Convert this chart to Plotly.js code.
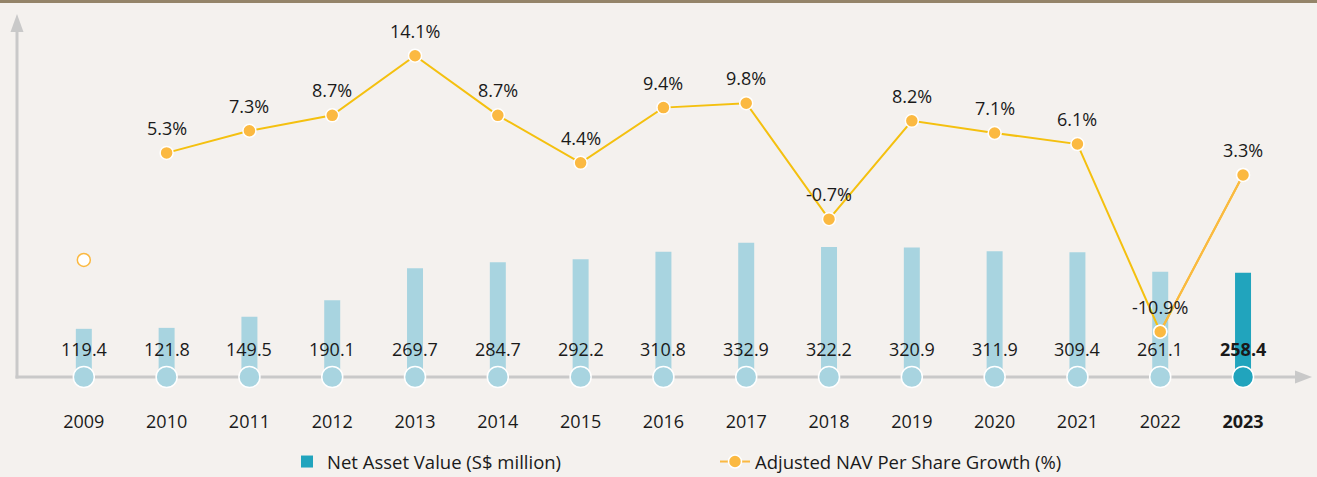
<!DOCTYPE html>
<html>
<head>
<meta charset="utf-8">
<script src="https://cdn.plot.ly/plotly-3.0.1.min.js"></script>
<style>
  html, body { margin: 0; padding: 0; background: #f4f1ee; }
  #chart { width: 1317px; height: 477px; }
</style>
</head>
<body>
<div id="chart"></div>
<script>
// ---- data ----
const years = ["2009","2010","2011","2012","2013","2014","2015","2016","2017","2018","2019","2020","2021","2022","2023"];
const navValues = [119.4, 121.8, 149.5, 190.1, 269.7, 284.7, 292.2, 310.8, 332.9, 322.2, 320.9, 311.9, 309.4, 261.1, 258.4];
const growthYears = ["2010","2011","2012","2013","2014","2015","2016","2017","2018","2019","2020","2021","2022","2023"];
const growthValues = [5.3, 7.3, 8.7, 14.1, 8.7, 4.4, 9.4, 9.8, -0.7, 8.2, 7.1, 6.1, -10.9, 3.3];
const openMarkerYear = ["2009"];
const openMarkerValue = [-4.4];
const navName = "Net Asset Value (S$ million)";
const growthName = "Adjusted NAV Per Share Growth (%)";

// ---- geometry helpers ----
const W = 1317, H = 477;
const M = {l: 17, r: 5, t: 14, b: 100, autoexpand: false};
const PW = W - M.l - M.r, PH = H - M.t - M.b;
const px = x => (x - M.l) / PW;
const py = y => (H - M.b - y) / PH;

const LIGHT = "#a8d4e0", DARK = "#21a4bd";
const GOLD = "#f4c00f", ORANGE = "#fbb941";
const AXIS = "#c9c9c9";
const FONT = "Open Sans, Noto Sans, sans-serif";
const last = years.length - 1;
const catIndex = yr => years.indexOf(yr);

const traces = [
  { type: "bar", x: years.slice(0, last), y: navValues.slice(0, last),
    marker: {color: LIGHT}, showlegend: false, yaxis: "y" },
  { type: "bar", x: years.slice(last), y: navValues.slice(last),
    marker: {color: DARK}, name: navName, showlegend: true, yaxis: "y" },
  { type: "scatter", mode: "markers", x: years, y: years.map(() => 0),
    marker: {size: 21, color: years.map((_, i) => i === last ? DARK : LIGHT),
             line: {color: "#ffffff", width: 1.5}},
    cliponaxis: false, showlegend: false, yaxis: "y" },
  { type: "scatter", mode: "lines", x: growthYears, y: growthValues,
    line: {color: GOLD, width: 2}, showlegend: false, yaxis: "y2", cliponaxis: false },
  { type: "scatter", mode: "lines+markers", x: growthYears.slice(-2), y: growthValues.slice(-2),
    line: {color: ORANGE, width: 2},
    marker: {size: 13, color: ORANGE, line: {color: "#ffffff", width: 1.5}},
    name: growthName, showlegend: true, yaxis: "y2", cliponaxis: false },
  { type: "scatter", mode: "markers", x: growthYears, y: growthValues,
    marker: {size: 13, color: ORANGE, line: {color: "#ffffff", width: 1.5}},
    showlegend: false, yaxis: "y2", cliponaxis: false },
  { type: "scatter", mode: "markers", x: openMarkerYear, y: openMarkerValue,
    marker: {size: 13, color: "#ffffff", line: {color: ORANGE, width: 1.5}},
    showlegend: false, yaxis: "y2", cliponaxis: false }
];

const annotations = [];
years.forEach((yr, i) => {
  annotations.push({ x: catIndex(yr), y: 0, xref: "x", yref: "y", yshift: 28, showarrow: false,
    text: i === last ? "<b>" + navValues[i].toFixed(1) + "</b>" : navValues[i].toFixed(1),
    font: {family: FONT, size: 18, color: "#1a1a1a"} });
});
growthYears.forEach((yr, i) => {
  annotations.push({ x: catIndex(yr), y: growthValues[i], xref: "x", yref: "y2", yshift: 25, showarrow: false,
    text: growthValues[i].toFixed(1) + "%",
    font: {family: FONT, size: 18, color: "#1a1a1a"} });
});

const shapes = [
  { type: "rect", xref: "paper", yref: "paper", x0: px(0), x1: px(W), y0: py(3), y1: py(0),
    fillcolor: "#948469", line: {width: 0}, layer: "below" },
  { type: "line", xref: "paper", yref: "paper", x0: px(17), x1: px(17), y0: py(378.5), y1: py(28),
    line: {color: AXIS, width: 3}, layer: "below" },
  { type: "path", xref: "paper", yref: "paper",
    path: `M${px(17)},${py(14)} L${px(10.5)},${py(32)} L${px(23.5)},${py(32)} Z`,
    fillcolor: AXIS, line: {width: 0}, layer: "below" },
  { type: "line", xref: "paper", yref: "paper", x0: px(15.5), x1: px(1298), y0: py(377), y1: py(377),
    line: {color: AXIS, width: 3}, layer: "below" },
  { type: "path", xref: "paper", yref: "paper",
    path: `M${px(1312)},${py(377)} L${px(1295)},${py(370.5)} L${px(1295)},${py(383.5)} Z`,
    fillcolor: AXIS, line: {width: 0}, layer: "below" }
];

const layout = {
  width: W, height: H,
  margin: M,
  paper_bgcolor: "#f4f1ee", plot_bgcolor: "rgba(0,0,0,0)",
  font: {family: FONT, size: 18, color: "#1a1a1a"},
  barmode: "overlay", bargap: 0.807,
  hovermode: false,
  showlegend: true,
  legend: { orientation: "h", x: px(287), xanchor: "left", y: py(462), yanchor: "middle",
            font: {family: FONT, size: 18.5, color: "#1a1a1a"},
            entrywidth: 383, entrywidthmode: "pixels", bgcolor: "rgba(0,0,0,0)", traceorder: "normal" },
  xaxis: { type: "category", categoryorder: "array", categoryarray: years,
           range: [-0.807, 14.833], showgrid: false, zeroline: false, showline: false,
           ticks: "outside", ticklen: 28, tickcolor: "rgba(0,0,0,0)",
           tickvals: years, ticktext: years.map((y, i) => i === last ? "<b>" + y + "</b>" : y),
           tickfont: {family: FONT, size: 18, color: "#1a1a1a"}, fixedrange: true },
  yaxis: { range: [0, 900], visible: false, showgrid: false, zeroline: false, fixedrange: true },
  yaxis2: { range: [-15.0, 17.88], overlaying: "y", visible: false, showgrid: false, zeroline: false, fixedrange: true },
  shapes: shapes,
  annotations: annotations
};

Plotly.newPlot("chart", traces, layout, {displayModeBar: false, staticPlot: true});
</script>
</body>
</html>
